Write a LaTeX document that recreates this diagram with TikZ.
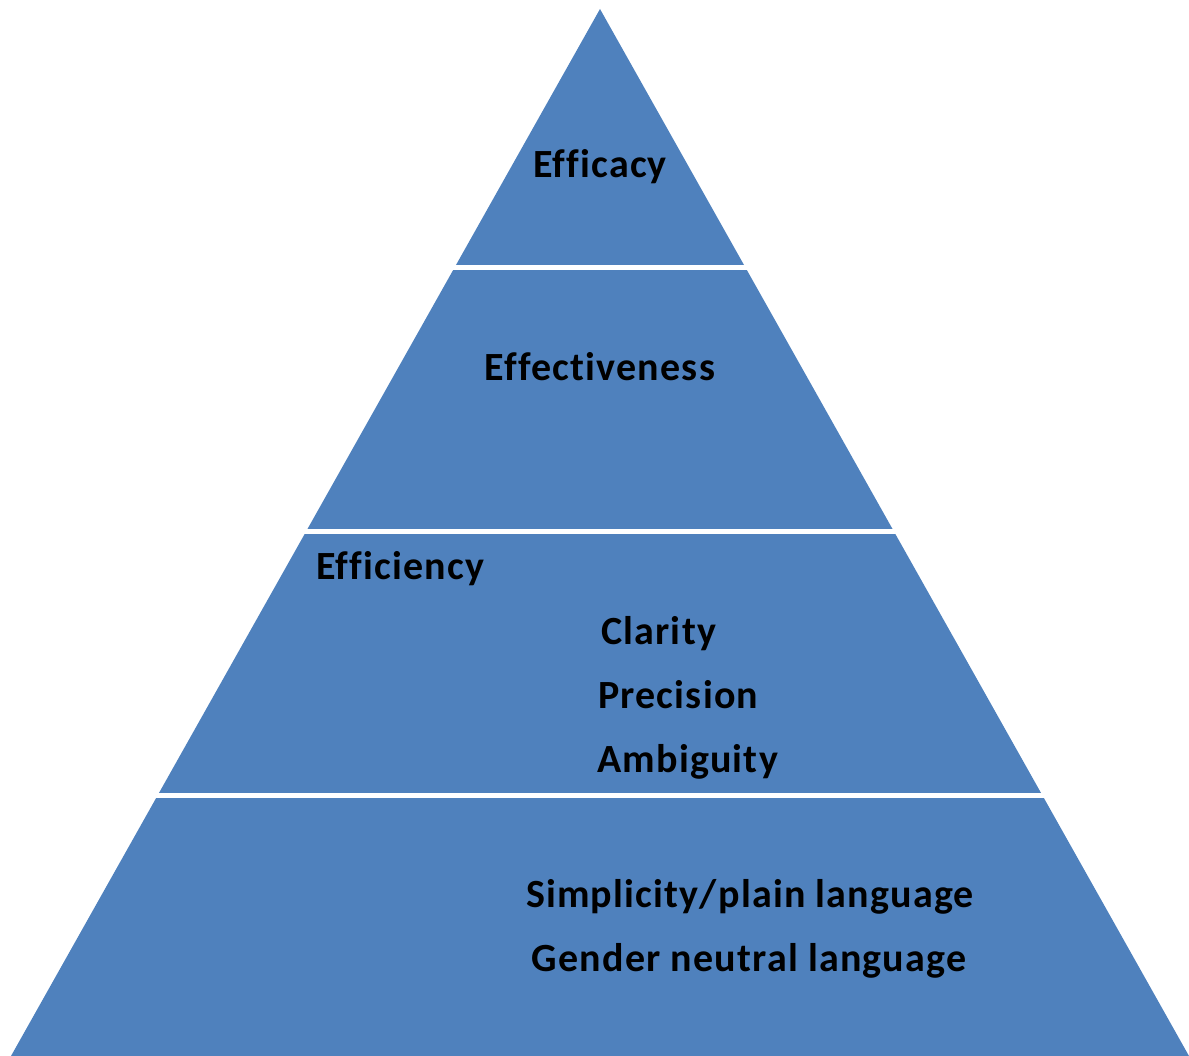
\documentclass[tikz,border=0pt]{standalone}
\usepackage{fontspec}
\setmainfont{Carlito}[Ligatures=CommonOff, LetterSpace=3]
\usepackage{tikz}
\definecolor{pyrblue}{HTML}{4F81BD}
\tikzset{label/.style={font=\fontsize{40}{44}\selectfont\bfseries, inner sep=0pt}}

\begin{document}
\begin{tikzpicture}[x=1pt,y=-1pt]
\useasboundingbox (0,0) rectangle (1189,1056);
\begin{scope}
    \coordinate (top) at (600,9);
    \coordinate (bl) at (11,1056);
    \coordinate (br) at (1189,1056);
    \fill[pyrblue] (top) -- (br) -- (bl) -- cycle;
    % white gaps between the layers
    \fill[white] (0,265) rectangle (1189,270);
    \fill[white] (0,529) rectangle (1189,534);
    \fill[white] (0,793) rectangle (1189,798);
\end{scope}

\begin{scope}[every node/.style={label}]
    \node[anchor=base] (efficacy) at (600,178) {Efficacy};
    \node[anchor=base] (effect) at (600,381) {Effectiveness};
    \node[anchor=base west] (effic) at (316,579) {Efficiency};
    \node[anchor=base west] (clarity) at (601,644) {Clarity};
    \node[anchor=base west] (precision) at (598,708) {Precision};
    \node[anchor=base west] (ambig) at (597,772) {Ambiguity};
    \node[anchor=base] (simple) at (750,907) {Simplicity/plain language};
    \node[anchor=base] (gender) at (749,971) {Gender neutral language};
\end{scope}
\end{tikzpicture}
\end{document}
